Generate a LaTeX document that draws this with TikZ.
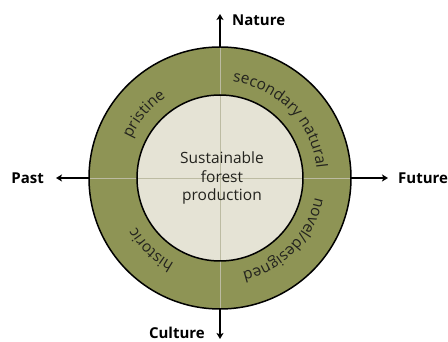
\documentclass[tikz,border=0pt]{standalone}
\usepackage{fontspec}
\setmainfont{Open Sans}
\usepackage{tikz}
\usetikzlibrary{arrows.meta,positioning,decorations.text}
\definecolor{ringgreen}{RGB}{142,148,85}
\definecolor{corebeige}{RGB}{229,227,213}
\definecolor{axisfaint}{RGB}{188,187,162}
\definecolor{inktext}{RGB}{35,35,30}

\begin{document}
\begin{tikzpicture}[x=1pt,y=1pt,
  disc/.style={circle,inner sep=0pt,minimum size=#1},
  axis/.style={line width=1.3pt,-{Stealth[length=6pt,width=7pt,inset=1.5pt]}},
  pole/.style={inner sep=0pt,font=\fontsize{15}{18}\selectfont\bfseries},
  ringlabel/.style={decorate,decoration={text along path,text align=center,
      text={|\fontsize{15.5}{18}\selectfont\color{inktext}|#1}}}]
  \useasboundingbox (-220,-164) rectangle (228,178);
  % ring and core
  \node[disc=262pt,fill=ringgreen] (outer) at (0,0) {};
  \node[disc=166pt,fill=corebeige] (core) at (0,0) {};
  \draw[axisfaint,line width=0.8pt] (outer.west) -- (outer.east);
  \draw[axisfaint,line width=0.8pt] (outer.north) -- (outer.south);
  \draw[line width=1.5pt] (outer.center) circle[radius=131];
  \draw[line width=1.5pt] (core.center) circle[radius=83];
  \node[align=center,text=inktext,font=\fontsize{15.5}{18.5}\selectfont] (title) at (2,0)
    {Sustainable\\forest\\production};
  % text in the ring
  \path[ringlabel={pristine}] (200:97) arc[start angle=200,end angle=80,radius=97];
  \path[ringlabel={secondary natural}] (104:97) arc[start angle=104,end angle=-16,radius=97];
  \path[ringlabel={novel/designed}] (16:97) arc[start angle=16,end angle=-104,radius=97];
  \path[ringlabel={historic}] (-74:97) arc[start angle=-74,end angle=-194,radius=97];
  % axes
  \coordinate (ntip) at (0,164);
  \coordinate (stip) at (0,-161);
  \coordinate (wtip) at (-164,0);
  \coordinate (etip) at (168,0);
  \draw[axis] (outer.north) -- (ntip);
  \draw[axis] (outer.south) -- (stip);
  \draw[axis] (outer.west) -- (wtip);
  \draw[axis] (outer.east) -- (etip);
  \node[pole,right=12pt of ntip,yshift=-6pt] (nature) {Nature};
  \node[pole,left=15pt of stip,yshift=6pt] (culture) {Culture};
  \node[pole,left=12pt of wtip] (past) {Past};
  \node[pole,right=10pt of etip] (future) {Future};
\end{tikzpicture}
\end{document}
